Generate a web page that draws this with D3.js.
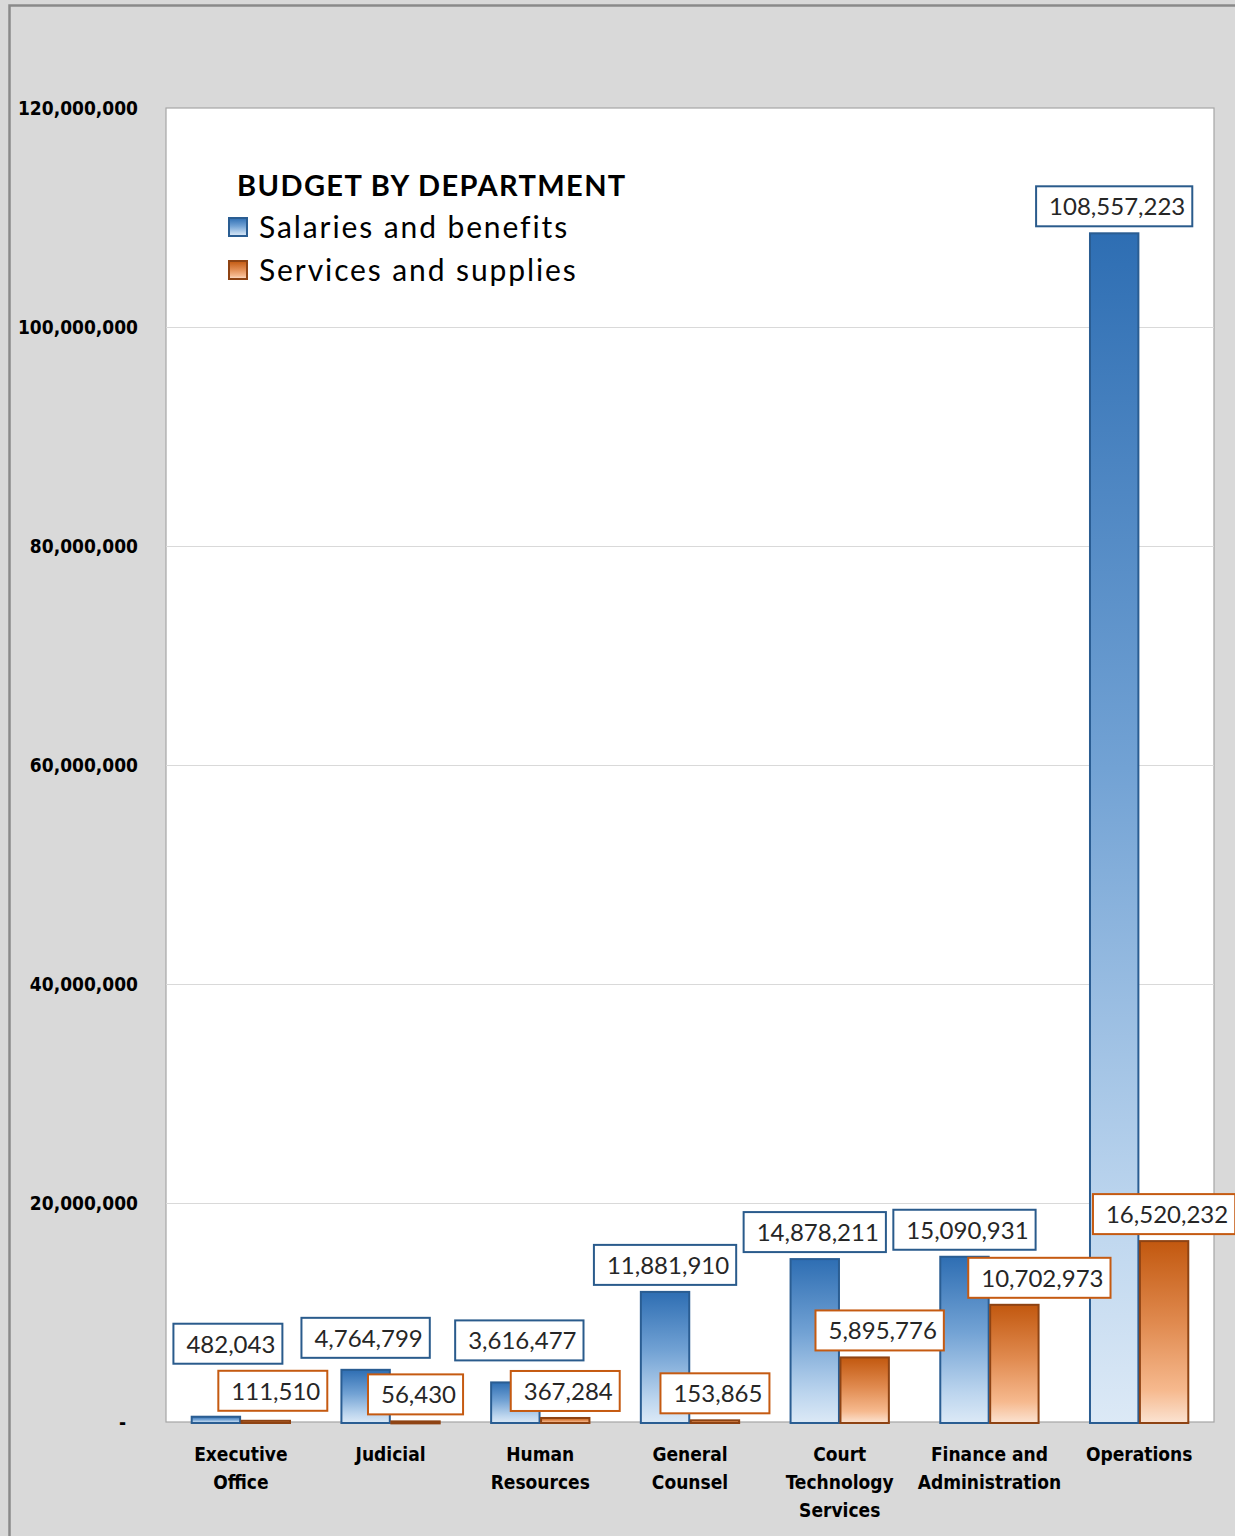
<!DOCTYPE html>
<html>
<head>
<meta charset="utf-8">
<script src="https://cdn.jsdelivr.net/npm/d3@7"></script>
<style>
  body { margin: 0; background: #fff; }
  .axis-label { font-family: "DejaVu Sans Condensed", "DejaVu Sans", sans-serif; font-stretch: condensed; font-weight: bold; }
  .calibri { font-family: Lato, "Open Sans", sans-serif; }
</style>
</head>
<body>
<div class="chart"></div>
<script>
// data
const departments = [
  ["Executive", "Office"],
  ["Judicial"],
  ["Human", "Resources"],
  ["General", "Counsel"],
  ["Court", "Technology", "Services"],
  ["Finance and", "Administration"],
  ["Operations"]
];
const salaries = [482043, 4764799, 3616477, 11881910, 14878211, 15090931, 108557223];
const services = [111510, 56430, 367284, 153865, 5895776, 10702973, 16520232];
const yTicks = [0, 20000000, 40000000, 60000000, 80000000, 100000000, 120000000];
const seriesNames = ["Salaries and benefits", "Services and supplies"];

// label nudges (dx, dy) where Excel labels were moved by hand
const labelNudge = [
  [[12, -46], [0, -5], [4, -15], [0, 0], [0, 0], [0, 0], [0, 0]],
  [[7, -3], [0, 0], [0, 0], [0, 0], [15, 0], [25, 0], [0, 0]]
];

const svgWidth = 1235;
const svgHeight = 1536;
const plot = { left: 166, right: 1214, top: 108, bottom: 1422 };

const svg = d3.select(".chart")
  .append("svg")
  .attr("width", svgWidth)
  .attr("height", svgHeight);

// gradients
const defs = svg.append("defs");
const grads = [
  { id: "gBlue", stops: [["0%", "#2e6eb3"], ["45%", "#72a2d4"], ["82%", "#bcd5ee"], ["100%", "#dce9f6"]] },
  { id: "gOrange", stops: [["0%", "#c2580f"], ["45%", "#e08a4f"], ["82%", "#f6b98e"], ["100%", "#fbe3d2"]] }
];
grads.forEach(g => {
  const lg = defs.append("linearGradient")
    .attr("id", g.id)
    .attr("x1", 0).attr("y1", 0).attr("x2", 0).attr("y2", 1);
  g.stops.forEach(s => lg.append("stop").attr("offset", s[0]).attr("stop-color", s[1]));
});
const fills = ["url(#gBlue)", "url(#gOrange)"];
const strokes = ["#2a5d92", "#8e4313"];
const labelStrokes = ["#2a5b8c", "#c55a11"];

// background + chart frame
svg.append("rect").attr("width", svgWidth).attr("height", svgHeight).attr("fill", "#d9d9d9");
svg.append("path")
  .attr("d", `M9.5,${svgHeight} V5.5 H${svgWidth}`)
  .attr("fill", "none")
  .attr("stroke", "#8a8a8a")
  .attr("stroke-width", 2.5);

// plot area
svg.append("rect")
  .attr("x", plot.left).attr("y", plot.top)
  .attr("width", plot.right - plot.left).attr("height", plot.bottom - plot.top)
  .attr("fill", "#fff")
  .attr("stroke", "#a6a6a6")
  .attr("stroke-width", 1.2);

// scales
const x0 = d3.scaleBand()
  .domain(d3.range(departments.length))
  .range([plot.left, plot.right])
  .paddingInner(1 / 3)
  .paddingOuter(1 / 6);

const x1 = d3.scaleBand()
  .domain([0, 1])
  .range([0, x0.bandwidth()]);

const y = d3.scaleLinear()
  .domain([0, 120000000])
  .range([plot.bottom, plot.top]);

// gridlines
svg.append("g")
  .selectAll("line")
  .data(yTicks.slice(1, -1))
  .enter()
  .append("line")
  .attr("x1", plot.left).attr("x2", plot.right)
  .attr("y1", d => Math.round(y(d)) + 0.5).attr("y2", d => Math.round(y(d)) + 0.5)
  .attr("stroke", "#d9d9d9")
  .attr("stroke-width", 1);

// y axis labels
const yAxis = d3.axisLeft(y)
  .tickValues(yTicks)
  .tickSize(0)
  .tickPadding(28)
  .tickFormat(d => d === 0 ? "-" : d3.format(",")(d));

const yG = svg.append("g")
  .attr("transform", `translate(${plot.left},0)`)
  .call(yAxis);
yG.select(".domain").remove();
yG.selectAll("text")
  .attr("class", "axis-label")
  .attr("font-size", 19)
  .attr("fill", "#000")
  .attr("dy", "0.35em");
yG.selectAll(".tick").filter(d => d === 0).select("text").attr("dx", -12);

// bars
const seriesData = [salaries, services];
seriesData.forEach((vals, s) => {
  svg.append("g")
    .selectAll("rect")
    .data(vals)
    .enter()
    .append("rect")
    .attr("x", (d, i) => x0(i) + x1(s) + 0.75)
    .attr("y", d => y(d))
    .attr("width", x1.bandwidth() - 1.5)
    .attr("height", d => Math.max(plot.bottom - y(d), 1) + 1)
    .attr("fill", fills[s])
    .attr("stroke", strokes[s])
    .attr("stroke-width", 2);
});

// data labels
const labelH = 40;
seriesData.forEach((vals, s) => {
  const g = svg.append("g").attr("class", "calibri");
  vals.forEach((v, i) => {
    const cx = x0(i) + x1(s) + x1.bandwidth() / 2 + labelNudge[s][i][0];
    const bottom = y(v) - 7 + labelNudge[s][i][1];
    const lg = g.append("g");
    const rect = lg.append("rect");
    const t = lg.append("text")
      .attr("x", cx + 3)
      .attr("y", bottom - labelH / 2 + 9)
      .attr("text-anchor", "middle")
      .attr("font-size", 24)
      .attr("fill", "#262626")
      .text(d3.format(",")(v));
    const w = t.node().getComputedTextLength() + 20;
    rect.attr("x", cx - w / 2)
      .attr("y", bottom - labelH)
      .attr("width", w)
      .attr("height", labelH)
      .attr("fill", "#fff")
      .attr("stroke", labelStrokes[s])
      .attr("stroke-width", 2);
  });
});

// category labels
const catG = svg.append("g");
departments.forEach((lines, i) => {
  const t = catG.append("text")
    .attr("class", "axis-label")
    .attr("x", x0(i) + x0.bandwidth() / 2)
    .attr("y", 1461)
    .attr("text-anchor", "middle")
    .attr("font-size", 19)
    .attr("fill", "#000");
  lines.forEach((ln, k) => {
    t.append("tspan")
      .attr("x", x0(i) + x0.bandwidth() / 2)
      .attr("dy", k === 0 ? 0 : 28)
      .text(ln);
  });
});

// legend
const legend = svg.append("g").attr("class", "calibri");
legend.append("text")
  .attr("x", 237).attr("y", 196)
  .attr("font-size", 29)
  .attr("font-weight", "bold")
  .attr("letter-spacing", 1.4)
  .attr("fill", "#000")
  .text("BUDGET BY DEPARTMENT");
seriesNames.forEach((name, s) => {
  const yy = 218 + s * 43;
  legend.append("rect")
    .attr("x", 229).attr("y", yy)
    .attr("width", 18).attr("height", 18)
    .attr("fill", fills[s])
    .attr("stroke", strokes[s])
    .attr("stroke-width", 2);
  legend.append("text")
    .attr("x", 259).attr("y", yy + 20)
    .attr("font-size", 30)
    .attr("letter-spacing", 1.9)
    .attr("fill", "#000")
    .text(name);
});
</script>
</body>
</html>
